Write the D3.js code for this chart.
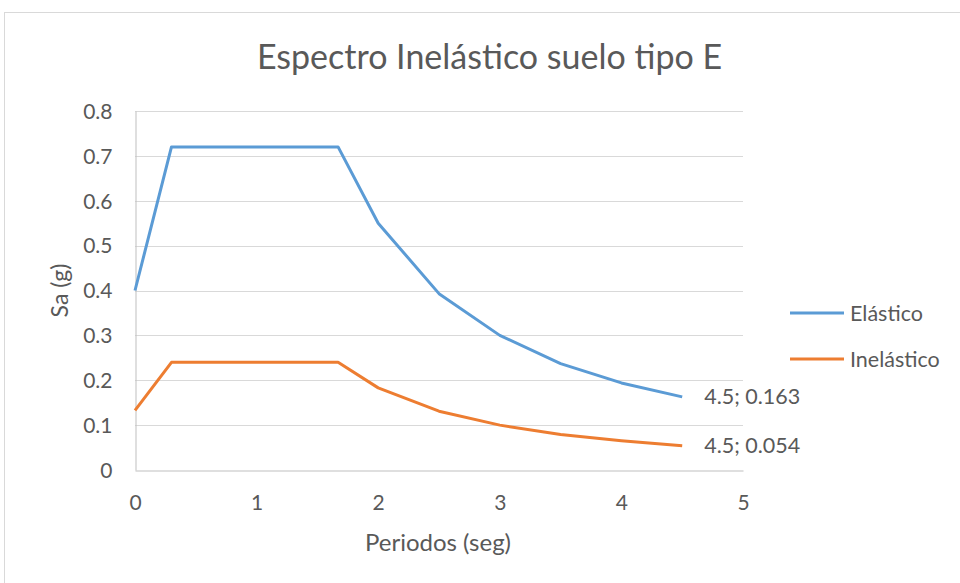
<!DOCTYPE html>
<html>
<head>
<meta charset="utf-8">
<script src="https://cdn.jsdelivr.net/npm/d3@7/dist/d3.min.js"></script>
<style>
  html, body { margin: 0; padding: 0; background: #fff; }
  svg text { font-family: Lato, "Open Sans", "Noto Sans", sans-serif; fill: #595959; }
</style>
</head>
<body>
<svg id="chart" width="960" height="583"></svg>
<script>
// Periods (s) and spectral accelerations (g)
const periods = [0, 0.3, 1.67, 2, 2.5, 3, 3.5, 4, 4.5];
const elastico = [0.4, 0.72, 0.72, 0.55, 0.393, 0.3, 0.237, 0.194, 0.163];
const inelastico = [0.133, 0.24, 0.24, 0.183, 0.131, 0.1, 0.079, 0.065, 0.054];
const seriesNames = ["Elástico", "Inelástico"];
const seriesColors = ["#5B9BD5", "#ED7D31"];
const xTicks = [0, 1, 2, 3, 4, 5];
const yTicks = [0, 0.1, 0.2, 0.3, 0.4, 0.5, 0.6, 0.7, 0.8];

const svg = d3.select("#chart");

// chart frame
svg.append("rect")
  .attr("x", 4.5).attr("y", 12.5)
  .attr("width", 970).attr("height", 600)
  .attr("fill", "none").attr("stroke", "#d9d9d9").attr("stroke-width", 1);

const plot = { left: 135, right: 743, top: 111, bottom: 470 };

const x = d3.scaleLinear().domain([0, 5]).range([plot.left, plot.right]);
const y = d3.scaleLinear().domain([0, 0.8]).range([plot.bottom, plot.top]);

// horizontal gridlines
svg.append("g")
  .selectAll("line")
  .data(yTicks.filter(d => d > 0))
  .join("line")
  .attr("x1", plot.left).attr("x2", plot.right)
  .attr("y1", d => Math.round(y(d)) + 0.5).attr("y2", d => Math.round(y(d)) + 0.5)
  .attr("stroke", "#d9d9d9").attr("stroke-width", 1);

// y axis
const yAxis = svg.append("g")
  .attr("transform", `translate(${plot.left + 0.5},0)`)
  .call(d3.axisLeft(y).tickValues(yTicks).tickSize(0).tickPadding(23)
    .tickFormat(d => d === 0 ? "0" : d3.format(".1f")(d)));
yAxis.select(".domain").attr("stroke", "#bfbfbf").attr("stroke-width", 1);
yAxis.selectAll("text").style("font-size", "21px").attr("fill", "#595959")
  .attr("dy", "0.35em");

// x axis
const xAxis = svg.append("g")
  .attr("transform", `translate(0,${Math.round(plot.bottom) + 0.5})`)
  .call(d3.axisBottom(x).tickValues(xTicks).tickSize(0).tickPadding(25)
    .tickFormat(d3.format("d")));
xAxis.select(".domain").attr("stroke", "#bfbfbf").attr("stroke-width", 1);
xAxis.selectAll("text").style("font-size", "21px").attr("fill", "#595959");

// axis titles
svg.append("text")
  .attr("x", 438).attr("y", 551)
  .attr("text-anchor", "middle")
  .style("font-size", "24px")
  .text("Periodos (seg)");

svg.append("text")
  .attr("transform", `translate(68,${(plot.top + plot.bottom) / 2}) rotate(-90)`)
  .attr("text-anchor", "middle")
  .style("font-size", "23px")
  .text("Sa (g)");

// title
svg.append("text")
  .attr("x", 489.5).attr("y", 69)
  .attr("text-anchor", "middle")
  .style("font-size", "34px")
  .text("Espectro Inelástico suelo tipo E");

// series lines
const line = d3.line().x(d => x(d[0])).y(d => y(d[1]));
const allSeries = [elastico, inelastico];
allSeries.forEach((vals, i) => {
  const pts = periods.map((p, j) => [p, vals[j]]);
  svg.append("path")
    .datum(pts)
    .attr("d", line)
    .attr("fill", "none")
    .attr("stroke", seriesColors[i])
    .attr("stroke-width", 3)
    .attr("stroke-linejoin", "round");

  // label on the last point
  const last = pts[pts.length - 1];
  svg.append("text")
    .attr("x", x(last[0]) + 22)
    .attr("y", y(last[1]))
    .attr("dy", "0.35em")
    .style("font-size", "21.5px")
    .text(`${last[0]}; ${last[1]}`);
});

// legend
const legend = svg.append("g");
seriesNames.forEach((name, i) => {
  const ly = 313 + i * 46;
  legend.append("line")
    .attr("x1", 790).attr("x2", 844)
    .attr("y1", ly).attr("y2", ly)
    .attr("stroke", seriesColors[i]).attr("stroke-width", 3);
  legend.append("text")
    .attr("x", 850).attr("y", ly)
    .attr("dy", "0.35em")
    .style("font-size", "21.5px")
    .text(name);
});
</script>
</body>
</html>
